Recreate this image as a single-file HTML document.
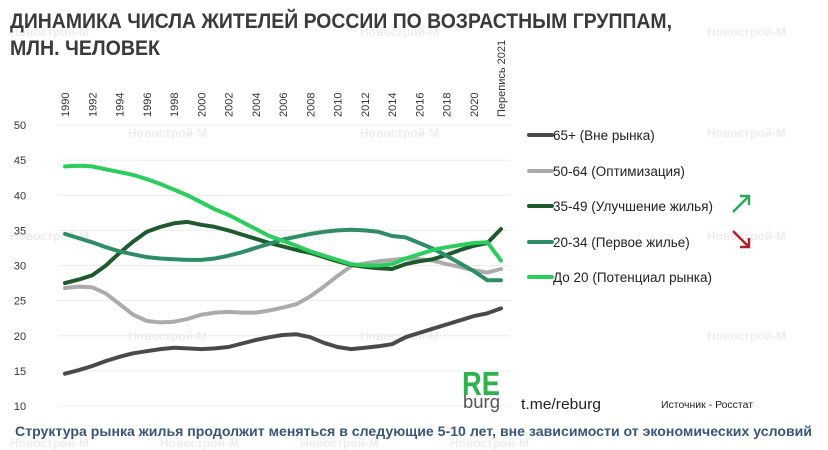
<!DOCTYPE html>
<html><head><meta charset="utf-8"><style>
body{margin:0;background:#fff}
svg{display:block;font-family:"Liberation Sans",sans-serif}
</style></head><body>
<svg id="chart" width="828" height="450" viewBox="0 0 828 450" xmlns="http://www.w3.org/2000/svg">
<g fill="#ededed" font-size="12" font-weight="bold">
<text x="10" y="36">Новострой-М</text><text x="360" y="36">Новострой-М</text><text x="707" y="36">Новострой-М</text>
<text x="128" y="137">Новострой-М</text><text x="360" y="137">Новострой-М</text><text x="707" y="137">Новострой-М</text>
<text x="10" y="240">Новострой-М</text><text x="245" y="240">Новострой-М</text><text x="707" y="240">Новострой-М</text>
<text x="128" y="340">Новострой-М</text><text x="360" y="340">Новострой-М</text><text x="707" y="340">Новострой-М</text>
<text x="10" y="447">Новострой-М</text><text x="160" y="447">Новострой-М</text><text x="300" y="447">Новострой-М</text><text x="450" y="447">Новострой-М</text>
</g>
<text x="10" y="28" font-size="21" font-weight="bold" fill="#3a3a3a" textLength="662" lengthAdjust="spacingAndGlyphs">ДИНАМИКА ЧИСЛА ЖИТЕЛЕЙ РОССИИ ПО ВОЗРАСТНЫМ ГРУППАМ,</text>
<text x="10" y="55" font-size="21" font-weight="bold" fill="#3a3a3a" textLength="150" lengthAdjust="spacingAndGlyphs">МЛН. ЧЕЛОВЕК</text>
<g id="grid"></g>
<g id="xaxis"></g>
<g id="series"></g>
<g id="legend"></g>
<path d="M733 212 L749 196 M740 196 L749 196 L749 205" stroke="#2eaa5a" stroke-width="2.5" fill="none"/>
<path d="M733 231 L749 247 M740 247 L749 247 L749 238" stroke="#b0222a" stroke-width="2.5" fill="none"/>
<text x="462" y="395" font-size="33" font-weight="bold" fill="#2db34e" textLength="38" lengthAdjust="spacingAndGlyphs">RE</text>
<text x="463" y="408" font-size="18" fill="#555" textLength="37" lengthAdjust="spacingAndGlyphs">burg</text>
<text x="521" y="409" font-size="15" fill="#222" textLength="80" lengthAdjust="spacingAndGlyphs">t.me/reburg</text>
<text x="661" y="408" font-size="10" fill="#222" textLength="92" lengthAdjust="spacingAndGlyphs">Источник - Росстат</text>
<text x="15" y="436" font-size="14" font-weight="bold" fill="#3a5577" textLength="797" lengthAdjust="spacingAndGlyphs">Структура рынка жилья продолжит меняться в следующие 5-10 лет, вне зависимости от экономических условий</text>
</svg>
<script>
const categories=[1990,1991,1992,1993,1994,1995,1996,1997,1998,1999,2000,2001,2002,2003,2004,2005,2006,2007,2008,2009,2010,2011,2012,2013,2014,2015,2016,2017,2018,2019,2020,2021,"Перепись 2021"];
const tickLabels=["1990","","1992","","1994","","1996","","1998","","2000","","2002","","2004","","2006","","2008","","2010","","2012","","2014","","2016","","2018","","2020","","Перепись 2021"];
const yTicks=[10,15,20,25,30,35,40,45,50];
const seriesNames=["65+ (Вне рынка)","50-64 (Оптимизация)","35-49 (Улучшение жилья)","20-34 (Первое жилье)","До 20 (Потенциал рынка)"];
const s65=[14.6,15.1,15.7,16.4,17.0,17.5,17.8,18.1,18.3,18.2,18.1,18.2,18.4,18.9,19.4,19.8,20.1,20.2,19.8,19.0,18.4,18.1,18.3,18.5,18.8,19.8,20.4,21.0,21.6,22.2,22.8,23.2,23.9];
const s50=[26.8,27.0,26.9,26.0,24.5,23.0,22.1,21.9,22.0,22.4,23.0,23.3,23.4,23.3,23.3,23.6,24.0,24.5,25.6,27.0,28.5,29.9,30.3,30.6,30.8,31.0,30.9,30.7,30.2,29.8,29.3,29.0,29.5];
const s35=[27.5,28.0,28.6,30.0,31.8,33.4,34.8,35.5,36.0,36.2,35.8,35.5,35.0,34.4,33.8,33.2,32.7,32.2,31.8,31.2,30.6,30.1,29.8,29.6,29.5,30.2,30.6,30.9,31.5,32.2,32.8,33.2,35.2];
const s20=[34.5,33.9,33.3,32.6,32.0,31.6,31.2,31.0,30.9,30.8,30.8,31.0,31.4,31.9,32.5,33.1,33.7,34.1,34.5,34.8,35.0,35.1,35.0,34.8,34.2,34.0,33.2,32.4,31.4,30.3,29.2,27.9,27.9];
const s0=[44.1,44.2,44.1,43.7,43.3,42.9,42.3,41.6,40.8,40.0,39.0,38.0,37.2,36.2,35.2,34.2,33.5,32.8,32.0,31.4,30.8,30.2,30.0,30.0,30.2,31.0,31.6,32.2,32.6,32.9,33.2,33.3,30.7];
const colors=["#4a4a4a","#ababab","#1f5a2e","#2e8d66","#2bce5c"];
const NS="http://www.w3.org/2000/svg";
const x=i=>65+i*(501-65)/(categories.length-1);
const y=v=>125+(50-v)*(406-125)/40;
function mk(tag,attrs,parent){const e=document.createElementNS(NS,tag);for(const k in attrs)e.setAttribute(k,attrs[k]);parent.appendChild(e);return e;}
const grid=document.getElementById('grid');
yTicks.forEach(t=>{
 const l=mk('line',{x1:58,x2:510,y1:y(t),y2:y(t),stroke:'#ececec','stroke-width':1},grid);
 
 
 const tx=mk('text',{x:20,y:y(t)+4,'font-size':11,fill:'#333','text-anchor':'middle'},grid);
 tx.textContent=t;
 
 
});
const xa=document.getElementById('xaxis');
tickLabels.forEach((t,i)=>{
 if(!t)return;
 const tx=mk('text',{transform:`translate(${x(i)+4},117) rotate(-90)`,'font-size':11,fill:'#333'},xa);
 tx.textContent=t;
 
 
});
const sg=document.getElementById('series');
[s65,s50,s35,s20,s0].forEach((s,k)=>{
 const d=s.map((v,i)=>(i?'L':'M')+x(i).toFixed(1)+' '+y(v).toFixed(1)).join(' ');
 const p=mk('path',{d:d,fill:'none',stroke:colors[k],'stroke-width':4,'stroke-linejoin':'round','stroke-linecap':'round'},sg);
 
 
});
const lg=document.getElementById('legend');
const ly=[135,171,206,242,277];
seriesNames.forEach((n,k)=>{
 const l=mk('line',{x1:529,x2:552,y1:ly[k],y2:ly[k],stroke:colors[k],'stroke-width':4,'stroke-linecap':'round'},lg);
 
 
 const tx=mk('text',{x:553,y:ly[k]+5,'font-size':13.5,fill:'#222'},lg);
 tx.textContent=n;
 
 
});
</script>
</body></html>
